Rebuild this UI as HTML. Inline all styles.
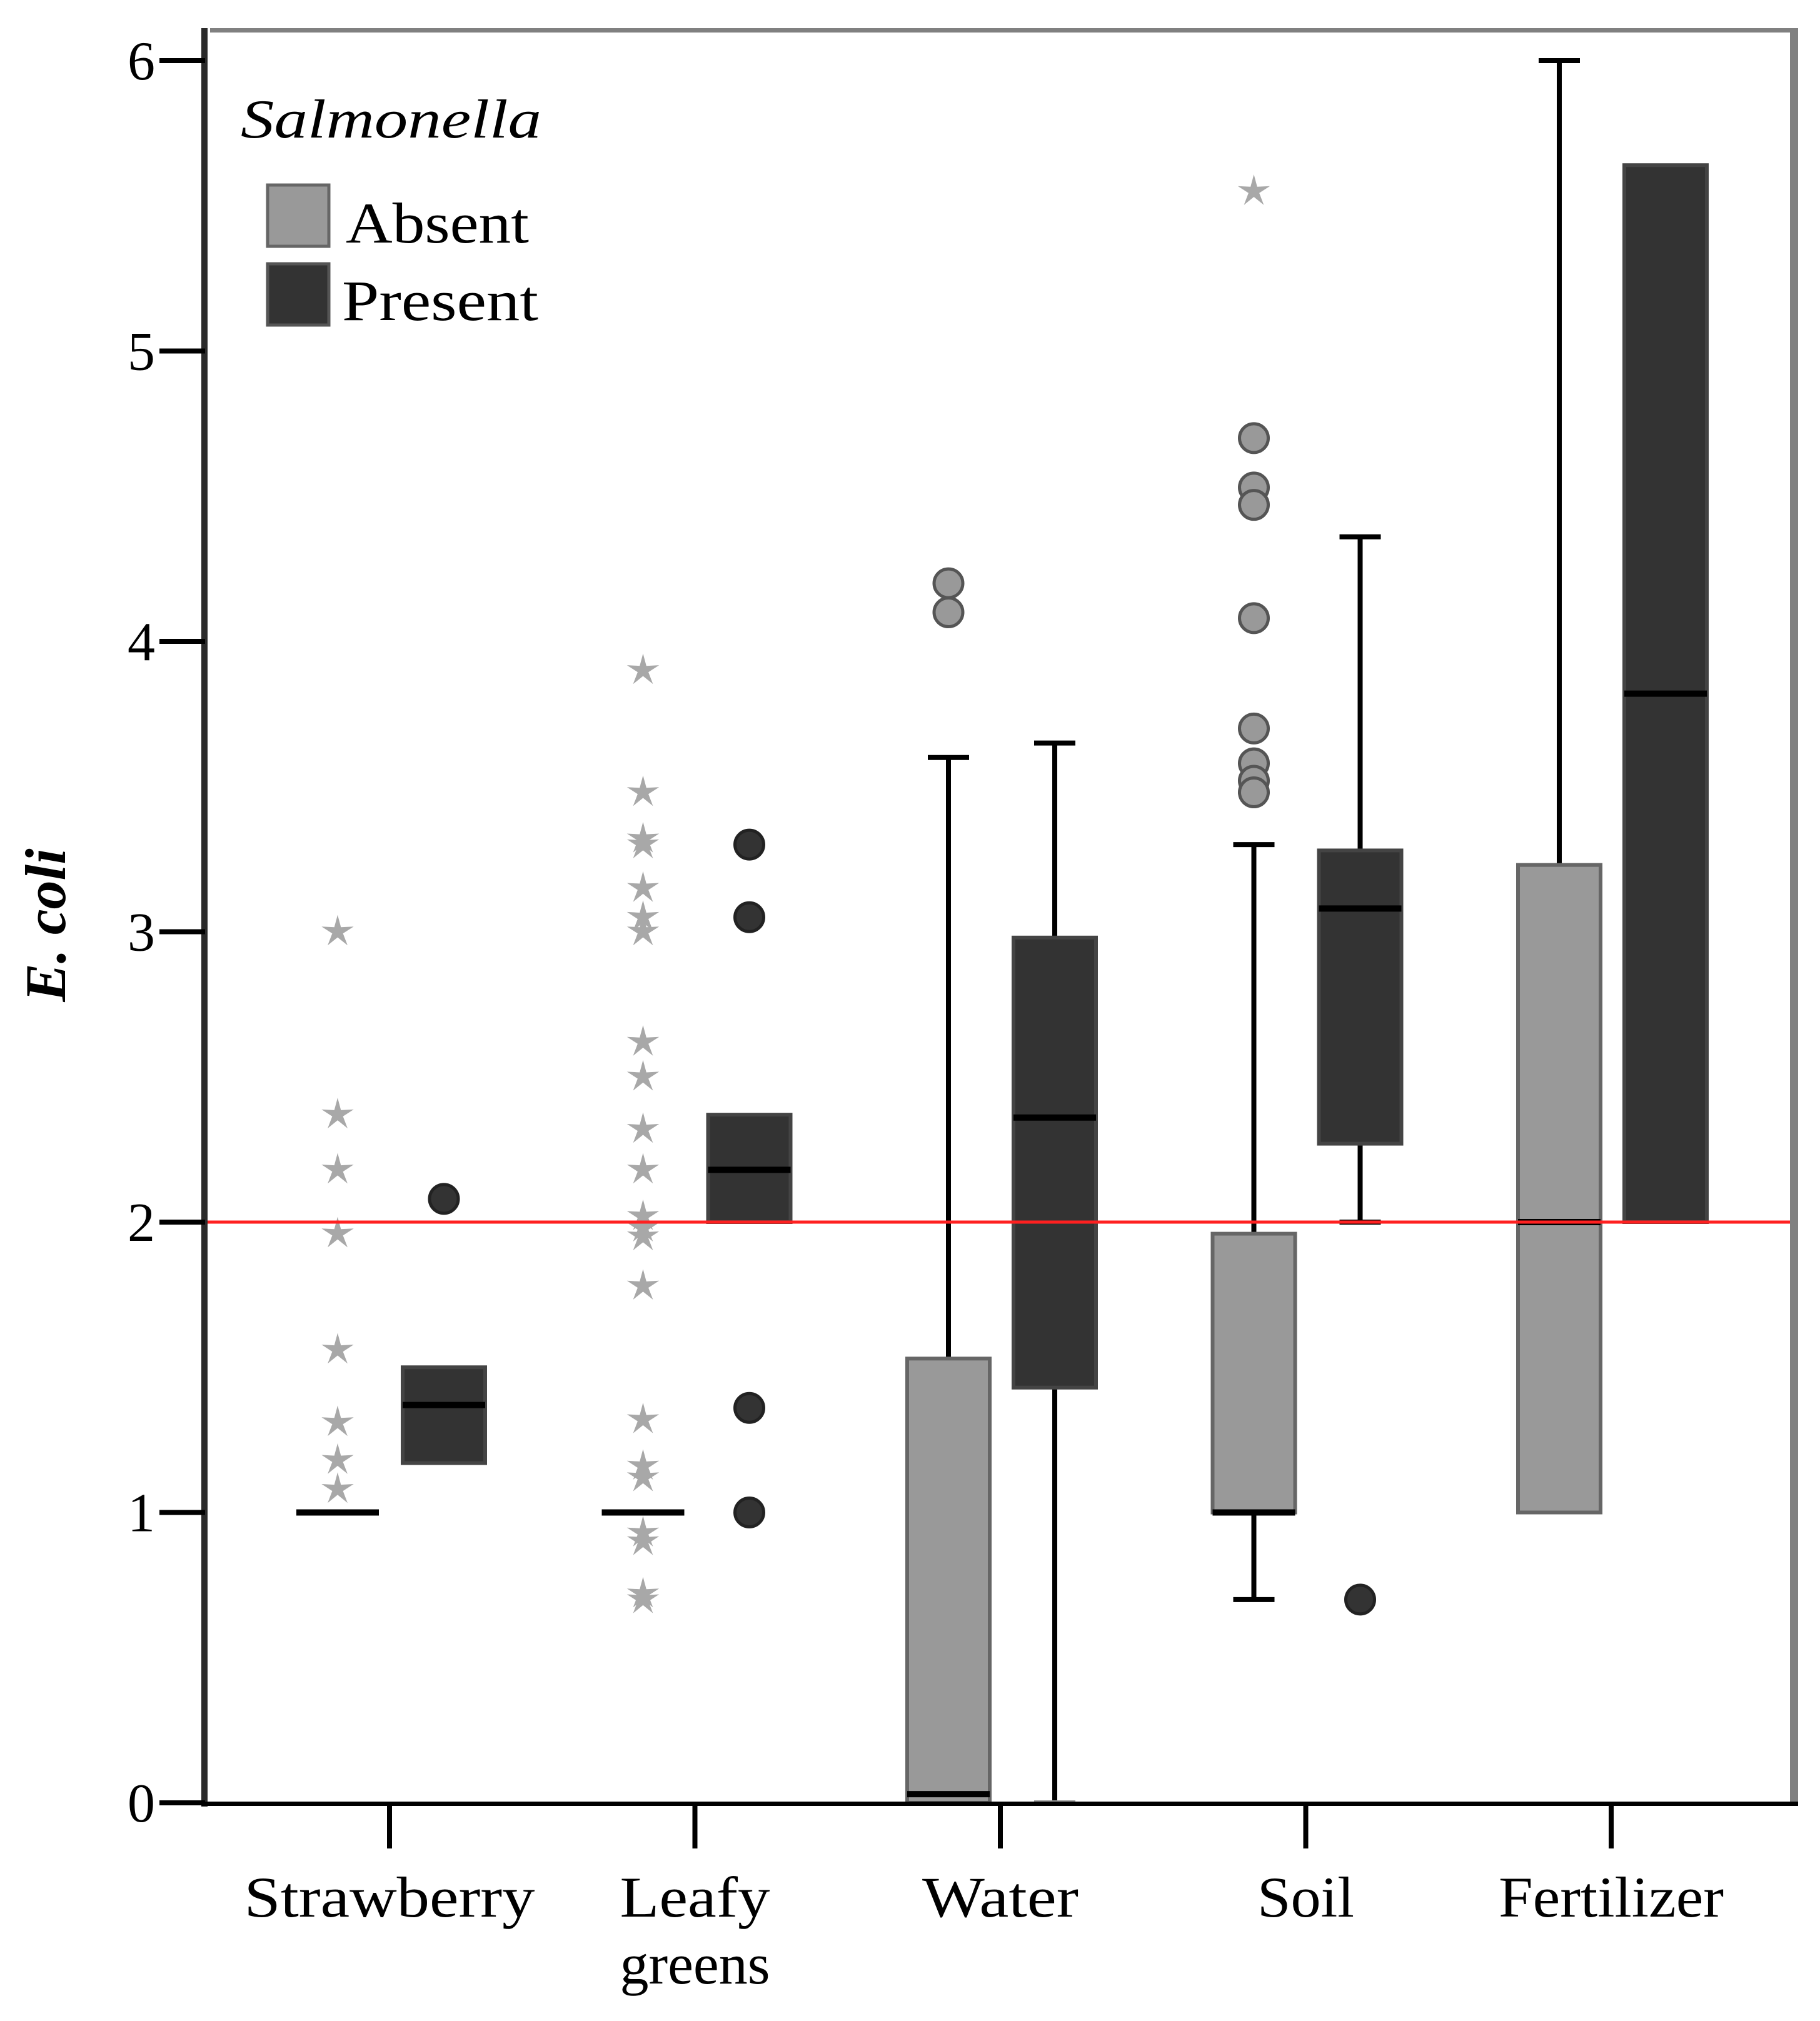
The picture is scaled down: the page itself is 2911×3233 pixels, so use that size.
<!DOCTYPE html>
<html><head><meta charset="utf-8"><style>
html,body{margin:0;padding:0;background:#fff;}
svg{display:block;}
text{font-family:"Liberation Serif",serif;fill:#000;}
</style></head>
<body>
<svg id="chart" width="2911" height="3233" viewBox="0 0 2911 3233" xmlns="http://www.w3.org/2000/svg">
  <rect x="0" y="0" width="2911" height="3233" fill="#fff"/>
  <g id="plot"></g>
  <rect x="336" y="45" width="2534" height="7" fill="#808080"/>
  <rect x="2863" y="45" width="13" height="2840" fill="#808080"/>
  <rect x="322" y="45" width="10" height="2845" fill="#2a2a2a"/>
  <rect x="322" y="2882" width="2554" height="7" fill="#000"/>
  <g id="axes"></g>
  <text x="83" y="1480" font-size="92" font-weight="bold" font-style="italic" text-anchor="middle" transform="rotate(-90 83 1480)" dominant-baseline="middle">E. coli</text>
  <g>
    <text x="385" y="220" font-size="88" font-style="italic" textLength="481" lengthAdjust="spacingAndGlyphs">Salmonella</text>
    <rect x="428" y="296" width="98" height="98" fill="#999" stroke="#666" stroke-width="5"/>
    <text x="553" y="388" font-size="92" textLength="293" lengthAdjust="spacingAndGlyphs">Absent</text>
    <rect x="428" y="422" width="98" height="98" fill="#333" stroke="#555" stroke-width="5"/>
    <text x="547" y="512" font-size="92" textLength="314" lengthAdjust="spacingAndGlyphs">Present</text>
  </g>
</svg>
<script>
const categories = ["Strawberry","Leafy greens","Water","Soil","Fertilizer"];
const yTicks = [0,1,2,3,4,5,6];
// [whiskerLow, q1, median, q3, whiskerHigh] (null = no whisker)
const absentBoxes = [
  [null,1,1,1,null],
  [null,1,1,1,null],
  [0,0,0.03,1.53,3.6],
  [0.7,1.0,1.0,1.96,3.3],
  [null,1.0,2.0,3.23,6.0]
];
const presentBoxes = [
  [null,1.17,1.37,1.5,null],
  [null,2.0,2.18,2.37,null],
  [0,1.43,2.36,2.98,3.65],
  [2.0,2.27,3.08,3.28,4.36],
  [null,2.0,3.82,5.64,null]
];
const absentStars = [
  [3.0,2.37,2.18,1.96,1.56,1.31,1.18,1.08],
  [3.9,3.48,3.32,3.30,3.15,3.05,3.0,2.62,2.5,2.32,2.18,2.02,1.98,1.95,1.78,1.32,1.16,1.12,0.93,0.9,0.72,0.7],
  [],
  [5.55],
  []
];
const absentCircles = [[],[],[4.2,4.1],[4.7,4.53,4.47,4.08,3.7,3.58,3.52,3.48],[]];
const presentCircles = [[2.08],[3.3,3.05,1.36,1.0],[],[0.7],[]];
const referenceValue = 2;

const NS="http://www.w3.org/2000/svg";
const plot=document.getElementById('plot');
const axes=document.getElementById('axes');
function y(v){return 2884-(v/6)*(2884-97);}
function xc(i){return 623+i*488.5;}
function mk(tag,attrs,parent){const e=document.createElementNS(NS,tag);for(const k in attrs)e.setAttribute(k,attrs[k]);parent.appendChild(e);return e;}
const BW=132, CAP=66;

function drawBox(b,cx,fill,stroke,name){
  const g=mk('g',{},plot);
  
  
  if(b[4]!==null){
    const l=mk('line',{x1:cx,x2:cx,y1:y(b[3]),y2:y(b[4]),stroke:'#000','stroke-width':8},g);
    
    
    const c=mk('line',{x1:cx-CAP/2,x2:cx+CAP/2,y1:y(b[4]),y2:y(b[4]),stroke:'#000','stroke-width':8},g);
    
    
  }
  if(b[0]!==null){
    const l=mk('line',{x1:cx,x2:cx,y1:y(b[0]),y2:y(b[1]),stroke:'#000','stroke-width':8},g);
    
    
    const c=mk('line',{x1:cx-CAP/2,x2:cx+CAP/2,y1:y(b[0]),y2:y(b[0]),stroke:b[0]===0?'#999':'#000','stroke-width':8},g);
    
    
  }
  if(b[3]>b[1]){
    const r=mk('rect',{x:cx-BW/2,y:y(b[3]),width:BW,height:y(b[1])-y(b[3]),fill:fill,stroke:stroke,'stroke-width':6},g);
    
    
  }
  const m=mk('line',{x1:cx-BW/2,x2:cx+BW/2,y1:y(b[2]),y2:y(b[2]),stroke:'#000','stroke-width':10},g);
  
  
}
function star(cx,cy,parent){
  const pts=[];
  for(let k=0;k<10;k++){const a=-Math.PI/2+k*Math.PI/5;const r=k%2?9:27;pts.push((cx+r*Math.cos(a)).toFixed(1)+','+(cy+r*Math.sin(a)).toFixed(1));}
  const p=mk('polygon',{points:pts.join(' '),fill:'#a8a8a8',stroke:'none'},parent);
  
  
}
function circ(cx,cy,fill,stroke,parent){
  const c=mk('circle',{cx:cx,cy:cy,r:23,fill:fill,stroke:stroke,'stroke-width':5},parent);
  
  
}

categories.forEach((cat,i)=>{
  const ax=xc(i)-83, px=xc(i)+87;
  drawBox(absentBoxes[i],ax,'#999','#666','box-absent-'+i);
  drawBox(presentBoxes[i],px,'#333','#444','box-present-'+i);
  absentStars[i].forEach(v=>star(ax,y(v),plot));
  absentCircles[i].forEach(v=>circ(ax,y(v),'#999','#555',plot));
  presentCircles[i].forEach(v=>circ(px,y(v),'#333','#222',plot));
});

const ref=mk('line',{x1:332,x2:2863,y1:y(referenceValue),y2:y(referenceValue),stroke:'#ff2020','stroke-width':5},plot);



yTicks.forEach(v=>{
  const t=mk('line',{x1:255,x2:328,y1:y(v),y2:y(v),stroke:'#000','stroke-width':8},axes);
  
  
  const tx=mk('text',{x:248,y:y(v)+30,'font-size':88,'text-anchor':'end'},axes);
  tx.textContent=v;
  
  
});
const labelWidths=[465,240,250,155,360];
categories.forEach((cat,i)=>{
  const t=mk('line',{x1:xc(i),x2:xc(i),y1:2886,y2:2957,stroke:'#000','stroke-width':8},axes);
  
  
  const words=cat==="Leafy greens"?["Leafy","greens"]:[cat];
  words.forEach((w,k)=>{
    const tx=mk('text',{x:xc(i),y:3066+k*107,'font-size':92,'text-anchor':'middle'},axes);
    if(k===0) { tx.setAttribute('textLength', labelWidths[i]); tx.setAttribute('lengthAdjust','spacingAndGlyphs'); }
    tx.textContent=w;
    
    
  });
});
</script>
</body></html>
